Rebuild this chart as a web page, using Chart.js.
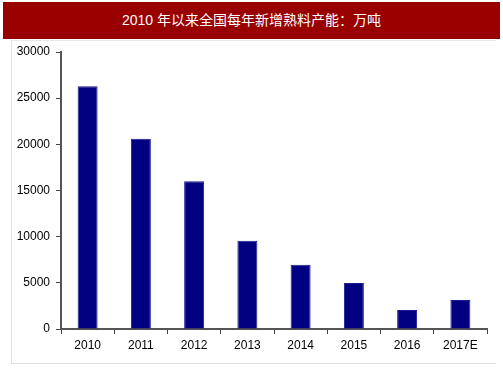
<!DOCTYPE html>
<html>
<head>
<meta charset="utf-8">
<script src="https://cdn.jsdelivr.net/npm/chart.js@4.4.0/dist/chart.umd.min.js"></script>
<style>
  body { margin: 0; background: #fff; }
  #wrap { position: relative; width: 503px; height: 378px; overflow: hidden; }
  #title {
    position: absolute; left: 3px; top: 2px; width: 497px; height: 37px;
    background: #990000; color: #fff; text-align: center;
    font: 14px "Liberation Sans", Arial, "Noto Sans CJK SC", sans-serif; line-height: 37px;
  }
  #frame {
    position: absolute; left: 11px; top: 40px; width: 484px; height: 322px;
    border-left: 1px solid #e2e2e2; border-top: 1px solid #e8e8e8; border-bottom: 1px solid #e2e2e2;
  }
  canvas { position: absolute; left: 0; top: 0; }
</style>
</head>
<body>
<div id="wrap">
  <div id="frame"></div>
  <div id="title">2010 年以来全国每年新增熟料产能：万吨</div>
  <canvas id="chart" width="503" height="378"></canvas>
</div>
<script>
const years = ['2010', '2011', '2012', '2013', '2014', '2015', '2016', '2017E'];
const capacity = [26300, 20600, 16000, 9550, 6950, 4980, 2060, 3140];
const yTicks = [0, 5000, 10000, 15000, 20000, 25000, 30000];

const labelFont = {
    family: "'Liberation Sans', Arial, sans-serif",
    size: 12
};

const config = {
    type: 'bar',
    data: {
        labels: years,
        datasets: [{
            data: capacity,
            backgroundColor: '#000080',
            borderColor: '#1c1c90',
            borderWidth: 1,
            barPercentage: 0.75,
            categoryPercentage: 0.5
        }]
    },
    options: {
        responsive: false,
        animation: false,
        layout: {
            padding: { top: 52, right: 16, bottom: 19, left: 0 }
        },
        plugins: {
            legend: { display: false },
            tooltip: { enabled: false }
        },
        scales: {
            x: {
                offset: true,
                grid: {
                    offset: true,
                    drawOnChartArea: false,
                    tickLength: 5,
                    color: '#444',
                    lineWidth: 1
                },
                border: { color: '#555', width: 2 },
                ticks: { color: '#000', font: labelFont, padding: 4 },
                afterFit: scale => { scale.height = 30; }
            },
            y: {
                min: 0,
                max: 30000,
                afterBuildTicks: scale => {
                    scale.ticks = yTicks.map(v => ({ value: v }));
                },
                grid: {
                    drawOnChartArea: false,
                    tickLength: 5,
                    color: '#444',
                    lineWidth: 1
                },
                border: { color: '#555', width: 2 },
                ticks: {
                    color: '#000',
                    font: labelFont,
                    padding: 6,
                    callback: value => String(value)
                },
                afterFit: scale => { scale.width = 61; }
            }
        }
    }
};

new Chart(document.getElementById('chart'), config);
</script>
</body>
</html>
